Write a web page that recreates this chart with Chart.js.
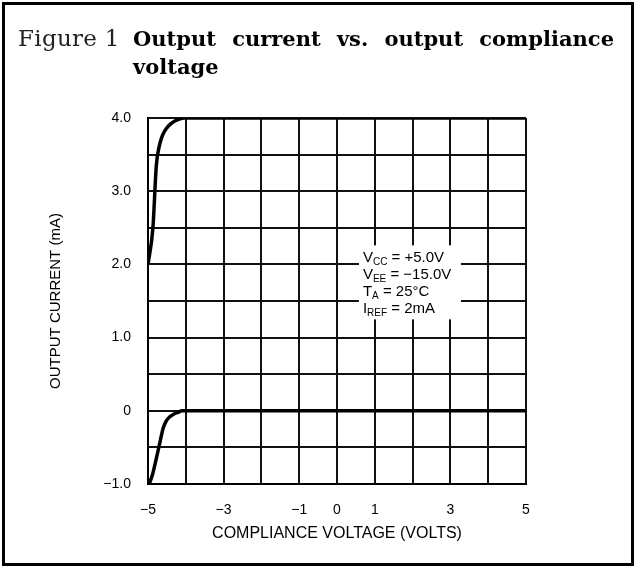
<!DOCTYPE html>
<html>
<head>
<meta charset="utf-8">
<script src="https://cdn.jsdelivr.net/npm/chart.js@4.4.1/dist/chart.umd.min.js"></script>
<style>
  html, body { margin: 0; padding: 0; background: #fff; }
  #wrap { position: relative; width: 636px; height: 567px; overflow: hidden; }
  #chart { position: absolute; left: 0; top: 0; }
  #frame { position: absolute; left: 2px; top: 2px; width: 626px; height: 558px; border: 3px solid #000; pointer-events: none; }
  #fig { position: absolute; left: 18px; top: 25px; font: 23px "DejaVu Serif", serif; color: #222; letter-spacing: 0.3px; }
  #title { position: absolute; left: 133px; top: 25px; width: 481px; font: bold 21px "DejaVu Serif", serif; line-height: 28px; color: #000; }
  #title .l1 { text-align: justify; text-align-last: justify; }
</style>
</head>
<body>
<div id="wrap">
  <canvas id="chart" width="636" height="567"></canvas>
  <div id="fig">Figure 1</div>
  <div id="title"><div class="l1">Output current vs. output compliance</div><div>voltage</div></div>
  <div id="frame"></div>
</div>
<script>
// --- Data ---
const xLabels = [-5, -3, -1, 0, 1, 3, 5];
const yLabels = [4, 3, 2, 1, 0, -1];

// upper trace
const upperV = [-5, -4.87, -4.78, -4.70, -4.62, -4.51, -4.40, -4.29, -4.15, -4.05, 5];
const upperI = [2.0, 2.5, 3.35, 3.62, 3.76, 3.86, 3.92, 3.96, 3.99, 4.0, 4.0];

// lower trace
const lowerV = [-4.97, -4.88, -4.81, -4.68, -4.60, -4.52, -4.42, -4.30, -4.20, -4.10, 5];
const lowerI = [-1.0, -0.87, -0.72, -0.42, -0.24, -0.14, -0.08, -0.04, -0.02, 0, 0];

const conditions = [
  ['V', 'CC', ' = +5.0V'],
  ['V', 'EE', ' = \u221215.0V'],
  ['T', 'A', ' = 25\u00b0C'],
  ['I', 'REF', ' = 2mA']
];

const fmtMinus = (s) => s.replace('-', '\u2212');
const toPts = (xs, ys) => xs.map((x, i) => ({ x: x, y: ys[i] }));

const FONT = "'Liberation Sans', Arial, sans-serif";

// white box with the test conditions, drawn over the grid
const conditionsBox = {
  id: 'conditionsBox',
  afterDatasetsDraw(chart) {
    const { ctx, scales: { x, y } } = chart;
    const left = x.getPixelForValue(0.58);
    const top = y.getPixelForValue(2.26);
    ctx.save();
    ctx.fillStyle = '#fff';
    ctx.fillRect(left, top, 102, 74);
    ctx.fillStyle = '#000';
    ctx.textBaseline = 'alphabetic';
    let ty = top + 17;
    conditions.forEach(([main, sub, rest]) => {
      let tx = left + 4;
      ctx.font = '15px ' + FONT;
      ctx.fillText(main, tx, ty);
      tx += ctx.measureText(main).width;
      ctx.font = '10px ' + FONT;
      ctx.fillText(sub, tx, ty + 3);
      tx += ctx.measureText(sub).width;
      ctx.font = '15px ' + FONT;
      ctx.fillText(rest, tx, ty);
      ty += 17;
    });
    ctx.restore();
  }
};

new Chart(document.getElementById('chart'), {
  type: 'scatter',
  data: {
    datasets: [
      {
        data: toPts(upperV, upperI),
        showLine: true,
        borderColor: '#000',
        borderWidth: 3.5,
        pointRadius: 0,
        cubicInterpolationMode: 'monotone'
      },
      {
        data: toPts(lowerV, lowerI),
        showLine: true,
        borderColor: '#000',
        borderWidth: 3.5,
        pointRadius: 0,
        cubicInterpolationMode: 'monotone'
      }
    ]
  },
  options: {
    responsive: false,
    animation: false,
    layout: { padding: { top: 118, right: 110, left: 0, bottom: 0 } },
    plugins: { legend: { display: false }, tooltip: { enabled: false } },
    scales: {
      x: {
        type: 'linear',
        min: -5,
        max: 5,
        afterFit: (s) => { s.height = 83; },
        ticks: {
          stepSize: 1,
          autoSkip: false,
          maxRotation: 0,
          padding: 18,
          color: '#000',
          font: { family: FONT, size: 14 },
          callback: (v) => xLabels.includes(v) ? fmtMinus(String(v)) : ''
        },
        grid: { color: '#111', lineWidth: 2, drawTicks: false },
        border: { color: '#000', width: 2 },
        title: {
          display: true,
          text: 'COMPLIANCE VOLTAGE (VOLTS)',
          color: '#000',
          font: { family: FONT, size: 16 },
          padding: { top: 24, bottom: 24 }
        }
      },
      y: {
        type: 'linear',
        min: -1,
        max: 4,
        afterFit: (s) => { s.width = 148; },
        ticks: {
          stepSize: 0.5,
          autoSkip: false,
          padding: 17,
          color: '#000',
          font: { family: FONT, size: 14 },
          callback: (v) => {
            if (!yLabels.includes(v)) return '';
            return v === 0 ? '0' : fmtMinus(v.toFixed(1));
          }
        },
        grid: { color: '#111', lineWidth: 2, drawTicks: false },
        border: { color: '#000', width: 2 },
        title: {
          display: true,
          text: 'OUTPUT CURRENT (mA)',
          color: '#000',
          font: { family: FONT, size: 15 },
          padding: { top: 47, bottom: 47 }
        }
      }
    }
  },
  plugins: [conditionsBox]
});
</script>
</body>
</html>
